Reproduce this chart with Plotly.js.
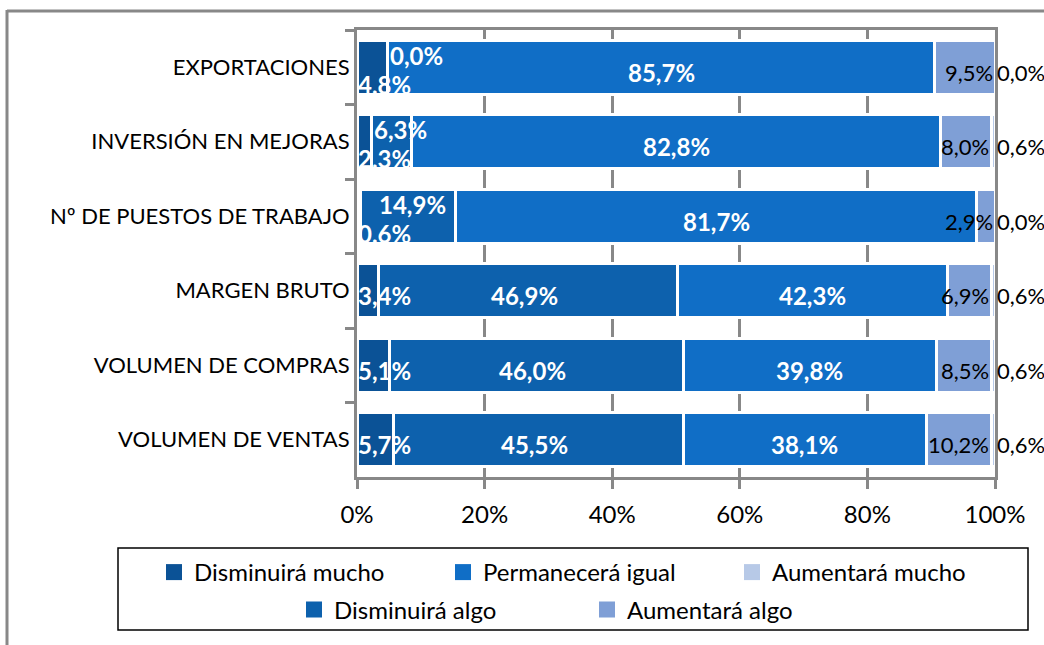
<!DOCTYPE html>
<html><head><meta charset="utf-8">
<script src="https://cdn.plot.ly/plotly-3.0.1.min.js"></script>
<style>html,body{margin:0;padding:0;background:#fff}#chart{width:1044px;height:645px}</style>
</head><body><div id="chart"></div>
<script>
// ---- data ----
const categories = ["EXPORTACIONES", "INVERSIÓN EN MEJORAS", "Nº DE PUESTOS DE TRABAJO", "MARGEN BRUTO", "VOLUMEN DE COMPRAS", "VOLUMEN DE VENTAS"];
const disminuiraMucho = [4.8, 2.3, 0.6, 3.4, 5.1, 5.7];
const disminuiraAlgo  = [0.0, 6.3, 14.9, 46.9, 46.0, 45.5];
const permanecera     = [85.7, 82.8, 81.7, 42.3, 39.8, 38.1];
const aumentaraAlgo   = [9.5, 8.0, 2.9, 6.9, 8.5, 10.2];
const aumentaraMucho  = [0.0, 0.6, 0.0, 0.6, 0.6, 0.6];
const seriesNames = ["Disminuirá mucho", "Disminuirá algo", "Permanecerá igual", "Aumentará algo", "Aumentará mucho"];
const tickVals = [0, 20, 40, 60, 80, 100];
const tickLabels = ["0%", "20%", "40%", "60%", "80%", "100%"];

// ---- styling ----
const FONT = "Lato, 'Open Sans', sans-serif";
const colors = ["#0b5296", "#0d61ad", "#106ec6", "#7f9fd6", "#b7c9e7"];
const series = [disminuiraMucho, disminuiraAlgo, permanecera, aumentaraAlgo, aumentaraMucho];

// pixel -> paper helpers (plot area 357..995 x 30..477)
const L = 357, R = 49, T = 30, B = 168, W = 1044, H = 645;
const PW = W - L - R, PH = H - T - B;
const px = x => (x - L) / PW;
const py = y => (H - B - y) / PH;

const traces = series.map((vals, k) => ({
  type: "bar", orientation: "h", name: seriesNames[k],
  x: vals, y: categories,
  marker: {color: colors[k], line: {color: "#ffffff", width: 3}},
  showlegend: false, hoverinfo: "skip", textposition: "none"
}));

// legend entries (one small legend per entry to reproduce the two-row layout)
const legendSpots = [[154, 572.5], [294, 610], [443, 572.5], [587, 610], [732, 572.5]];
seriesNames.forEach((nm, k) => {
  traces.push({
    type: "scatter", mode: "markers", name: nm, x: [null], y: [null],
    marker: {symbol: "square", size: 16, color: colors[k]},
    legend: k === 0 ? "legend" : "legend" + (k + 1),
    showlegend: true, hoverinfo: "skip"
  });
});

const fmt = v => v.toFixed(1).replace(".", ",") + "%";

const annotations = [];
const base = -5;
categories.forEach((cat, i) => {
  const vals = series.map(s => s[i]);
  const total = vals.reduce((a, b) => a + b, 0);
  const cum = [0];
  vals.forEach(v => cum.push(cum[cum.length - 1] + v / total * 100));
  const narrow = vals[1] < 20;
  const white = {family: FONT, size: 24, color: "#ffffff", weight: "bold"};
  const dark = {family: FONT, size: 22, color: "#000000"};
  // Disminuirá mucho
  annotations.push({x: cum[0], y: cat, xref: "x", yref: "y", text: "<b>" + fmt(vals[0]) + "</b>",
    showarrow: false, xanchor: "left", xshift: -1, yshift: base + (narrow ? -12 : 0), font: white});
  // Disminuirá algo
  if (vals[1] < 10) {
    annotations.push({x: cum[1], y: cat, xref: "x", yref: "y", text: "<b>" + fmt(vals[1]) + "</b>",
      showarrow: false, xanchor: "left", xshift: 0, yshift: base + (narrow ? 17 : 0), font: white});
  } else {
    annotations.push({x: (cum[1] + cum[2]) / 2, y: cat, xref: "x", yref: "y", text: "<b>" + fmt(vals[1]) + "</b>",
      showarrow: false, xanchor: "center", xshift: narrow ? 4 : -4, yshift: base + (narrow ? 17 : 0), font: white});
  }
  // Permanecerá igual
  annotations.push({x: (cum[2] + cum[3]) / 2, y: cat, xref: "x", yref: "y", text: "<b>" + fmt(vals[2]) + "</b>",
    showarrow: false, xanchor: "center", yshift: base, font: white});
  // Aumentará algo
  annotations.push({x: cum[4], y: cat, xref: "x", yref: "y", text: fmt(vals[3]),
    showarrow: false, xanchor: "right", xshift: 0, yshift: base, font: dark});
  // Aumentará mucho
  annotations.push({x: cum[5], y: cat, xref: "x", yref: "y", text: fmt(vals[4]),
    showarrow: false, xanchor: "left", xshift: 0, yshift: base, font: dark});
});

const legendBase = {orientation: "h", xref: "paper", yref: "paper", xanchor: "left", yanchor: "middle",
  bgcolor: "rgba(0,0,0,0)", borderwidth: 0, font: {family: FONT, size: 24, color: "#000"}, itemclick: false, itemdoubleclick: false};
const layout = {
  width: W, height: H,
  margin: {l: L, r: R, t: T, b: B, pad: 0},
  paper_bgcolor: "#ffffff", plot_bgcolor: "#ffffff",
  barmode: "stack", barnorm: "percent", bargap: 0.275,
  font: {family: FONT, size: 22, color: "#000"},
  xaxis: {range: [0, 100], tickvals: tickVals, ticktext: tickLabels,
    showgrid: true, gridcolor: "#888888", gridwidth: 3, zeroline: false,
    showline: true, linecolor: "#888888", linewidth: 3, mirror: true,
    ticks: "outside", ticklen: 9, tickwidth: 3, tickcolor: "#888888", ticklabelstandoff: 5,
    tickfont: {family: FONT, size: 24, color: "#000"}, fixedrange: true},
  yaxis: {type: "category", categoryorder: "array", categoryarray: categories, autorange: "reversed",
    showgrid: false, zeroline: false, showline: true, linecolor: "#888888", linewidth: 3, mirror: true,
    ticks: "outside", tickson: "boundaries", ticklen: 9, tickwidth: 3, tickcolor: "#888888",
    tickfont: {family: FONT, size: 22, color: "#000"}, fixedrange: true},
  annotations: annotations,
  shapes: [
    {type: "rect", xref: "paper", yref: "paper", x0: px(118), x1: px(1028), y0: py(548), y1: py(630),
      line: {color: "#000000", width: 1.5}, fillcolor: "rgba(0,0,0,0)", layer: "below"},
    {type: "line", xref: "paper", yref: "paper", x0: px(7), x1: px(1050), y0: py(11), y1: py(11),
      line: {color: "#888888", width: 3}},
    {type: "line", xref: "paper", yref: "paper", x0: px(7), x1: px(7), y0: py(10), y1: py(660),
      line: {color: "#888888", width: 3}}
  ],
  showlegend: true
};
legendSpots.forEach((s, k) => {
  layout[k === 0 ? "legend" : "legend" + (k + 1)] = Object.assign({}, legendBase, {x: px(s[0]), y: py(s[1])});
});

Plotly.newPlot("chart", traces, layout, {displayModeBar: false, staticPlot: true});
</script>
</body></html>
